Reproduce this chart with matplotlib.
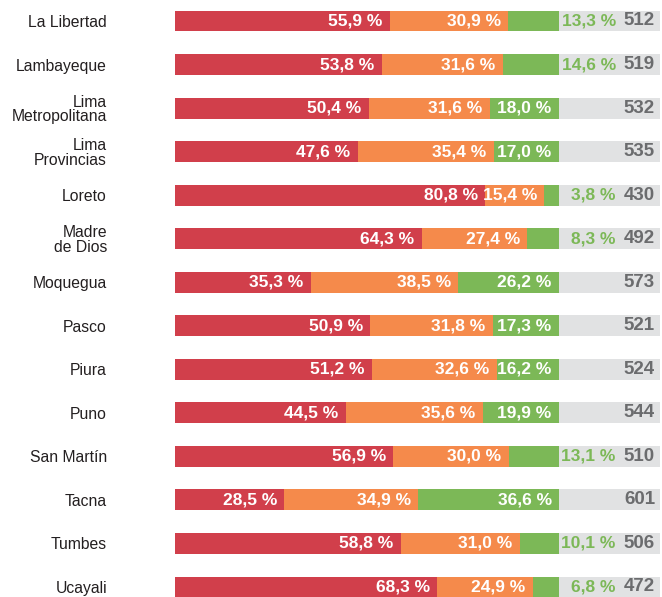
import matplotlib
matplotlib.use('Agg')
import matplotlib.pyplot as plt

regions = ['La Libertad', 'Lambayeque', 'Lima\nMetropolitana', 'Lima\nProvincias',
           'Loreto', 'Madre\nde Dios', 'Moquegua', 'Pasco', 'Piura', 'Puno',
           'San Martín', 'Tacna', 'Tumbes', 'Ucayali']
red_vals = [55.9, 53.8, 50.4, 47.6, 80.8, 64.3, 35.3, 50.9, 51.2, 44.5, 56.9, 28.5, 58.8, 68.3]
orange_vals = [30.9, 31.6, 31.6, 35.4, 15.4, 27.4, 38.5, 31.8, 32.6, 35.6, 30.0, 34.9, 31.0, 24.9]
green_vals = [13.3, 14.6, 18.0, 17.0, 3.8, 8.3, 26.2, 17.3, 16.2, 19.9, 13.1, 36.6, 10.1, 6.8]
counts = [512, 519, 532, 535, 430, 492, 573, 521, 524, 544, 510, 601, 506, 472]

red = '#d13f4b'
orange = '#f58a4b'
green = '#7cb857'
grey = '#e1e2e3'
count_color = '#6b6c6e'

plt.rcParams['font.family'] = ['Liberation Sans', 'DejaVu Sans']

fig = plt.figure(figsize=(6.62, 5.97), dpi=100)
ax = fig.add_axes([175 / 662, 0, 485 / 662, 1])

n = len(regions)
ys = list(range(n))
h = 0.48
xmax = 126.3

# grey background bar, then the three stacked segments
ax.barh(ys, [xmax] * n, height=h, color=grey, linewidth=0)
ax.barh(ys, red_vals, height=h, color=red, linewidth=0)
left2 = red_vals
ax.barh(ys, orange_vals, left=left2, height=h, color=orange, linewidth=0)
left3 = [r + o for r, o in zip(red_vals, orange_vals)]
ax.barh(ys, green_vals, left=left3, height=h, color=green, linewidth=0)

def pct(v):
    return f'{v:.1f} %'.replace('.', ',')

pad = 1.9
fs = 12.5
for i in range(n):
    r, o, g = red_vals[i], orange_vals[i], green_vals[i]
    ax.text(r - pad, i, pct(r), ha='right', va='center',
            color='white', fontsize=fs, fontweight='bold')
    ax.text(r + o - pad, i, pct(o), ha='right', va='center',
            color='white', fontsize=fs, fontweight='bold')
    if g >= 15:
        ax.text(r + o + g - pad, i, pct(g), ha='right', va='center',
                color='white', fontsize=fs, fontweight='bold')
    else:
        # small green share goes outside, on the grey part
        ax.text(114.8, i, pct(g), ha='right', va='center',
                color=green, fontsize=fs, fontweight='bold')
    ax.text(125.0, i, str(counts[i]), ha='right', va='center',
            color=count_color, fontsize=13.5, fontweight='bold')

ax.set_xlim(0, xmax)
ax.set_ylim(13.23, -0.482)
ax.set_yticks(ys)
ax.set_yticklabels(regions, fontsize=11.3, color='#231f20', linespacing=0.95)
ax.tick_params(axis='y', length=0, pad=49)
ax.set_xticks([])
for s in ax.spines.values():
    s.set_visible(False)

fig.savefig('out.png', dpi=100)
